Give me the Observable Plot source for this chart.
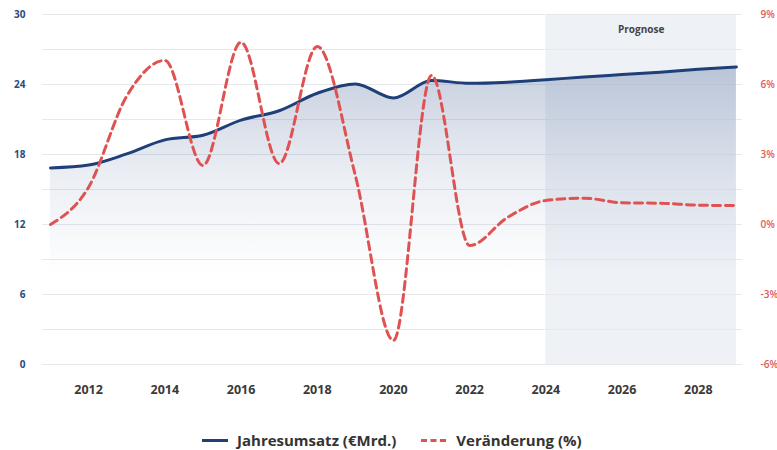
<!DOCTYPE html>
<html>
<head>
<meta charset="utf-8">
<script src="https://cdn.jsdelivr.net/npm/d3@7"></script>
<script src="https://cdn.jsdelivr.net/npm/@observablehq/plot@0.6"></script>
<style>
  html, body { margin: 0; padding: 0; background: #fff; }
  body { width: 777px; height: 450px; position: relative; overflow: hidden; font-family: "Open Sans", sans-serif; }
  #legend { position: absolute; top: 430px; left: 202px; display: flex; align-items: center; font-size: 15px; font-weight: 700; color: #333; white-space: nowrap; line-height: 20px; }
  .sw { display: inline-block; width: 26px; height: 0; margin-right: 9px; }
  .sw.blue { border-top: 3px solid #1e3f78; }
  .sw.red { border-top: 3px dashed #e05252; width: 25px; margin-right: 10px; }
</style>
</head>
<body>
<div id="chart"></div>
<div id="legend">
  <span class="sw blue"></span><span>Jahresumsatz (€Mrd.)</span>
  <span style="display:inline-block;width:25px"></span>
  <span class="sw red"></span><span>Veränderung (%)</span>
</div>
<script>
const years = [2011, 2012, 2013, 2014, 2015, 2016, 2017, 2018, 2019, 2020, 2021, 2022, 2023, 2024, 2025, 2026, 2027, 2028, 2029];
const umsatz = [16.85, 17.1, 18.05, 19.25, 19.65, 20.95, 21.75, 23.25, 24.05, 22.85, 24.35, 24.1, 24.2, 24.4, 24.65, 24.85, 25.05, 25.3, 25.5];
const veraenderung = [0.0, 1.6, 5.5, 7.03, 2.53, 7.81, 2.61, 7.63, 2.1, -4.97, 6.39, -0.9, 0.31, 1.03, 1.13, 0.93, 0.91, 0.83, 0.81];
const xTicks = [2012, 2014, 2016, 2018, 2020, 2022, 2024, 2026, 2028];
const leftTicks = [0, 6, 12, 18, 24, 30];
const gridValues = [0, 3, 6, 9, 12, 15, 18, 21, 24, 27, 30];
const prognose = [{start: 2024, end: 2029, label: "Prognose"}];

const data = years.map((y, i) => ({year: y, umsatz: umsatz[i], pct: veraenderung[i]}));
// Percent axis is tied to the left axis: pct = (value - 12) / 2
const pctToLeft = p => 12 + 2 * p;

const chart = Plot.plot({
  width: 777,
  height: 410,
  marginTop: 14,
  marginBottom: 46,
  marginLeft: 42,
  marginRight: 35,
  style: {fontFamily: "Open Sans, sans-serif", background: "#fff"},
  x: {domain: [2010.79, 2029.16]},
  y: {domain: [0, 30]},
  marks: [
    Plot.rect(prognose, {x1: "start", x2: "end", y1: 0, y2: 30, fill: "#eef1f6"}),
    Plot.ruleY(gridValues, {stroke: "#e6e8ec", strokeWidth: 1}),
    Plot.text(prognose, {x: d => (d.start + d.end) / 2, y: 30, dy: 15, text: "label", fill: "#444", fontSize: 10, fontWeight: 700}),
    Plot.areaY(data, {x: "year", y: "umsatz", curve: "monotone-x", fill: "#1e3f78", className: "umsatz-area"}),
    Plot.line(data, {x: "year", y: "umsatz", curve: "monotone-x", stroke: "#1e3f78", strokeWidth: 3}),
    Plot.line(data, {x: "year", y: d => pctToLeft(d.pct), curve: "monotone-x", stroke: "#e05252", strokeWidth: 3, strokeDasharray: "8,5"}),
    Plot.axisX({ticks: xTicks, tickFormat: d => String(d), tickSize: 0, tickPadding: 21, fontSize: 12.5, fontWeight: 700, color: "#3a3a3a", label: null}),
    Plot.axisY({anchor: "left", ticks: leftTicks, tickFormat: d => String(d), tickSize: 0, tickPadding: 17, fontSize: 10, fontWeight: 700, color: "#2b4a7e", label: null}),
    Plot.axisY({anchor: "right", ticks: leftTicks, tickFormat: d => `${(d - 12) / 2}%`, tickSize: 0, tickPadding: 18, fontSize: 10, fontWeight: 600, color: "#e05a5a", label: null})
  ]
});

const svg = d3.select(chart);
const defs = svg.insert("defs", ":first-child");
const grad = defs.append("linearGradient")
  .attr("id", "areaGrad")
  .attr("gradientUnits", "userSpaceOnUse")
  .attr("x1", 0).attr("x2", 0).attr("y1", 65).attr("y2", 275);
grad.append("stop").attr("offset", "0%").attr("stop-color", "#2b4c85").attr("stop-opacity", 0.27);
grad.append("stop").attr("offset", "50%").attr("stop-color", "#2b4c85").attr("stop-opacity", 0.1);
grad.append("stop").attr("offset", "100%").attr("stop-color", "#2b4c85").attr("stop-opacity", 0);
svg.selectAll(".umsatz-area, .umsatz-area path").attr("fill", "url(#areaGrad)");

document.getElementById("chart").appendChild(chart);
</script>
</body>
</html>
